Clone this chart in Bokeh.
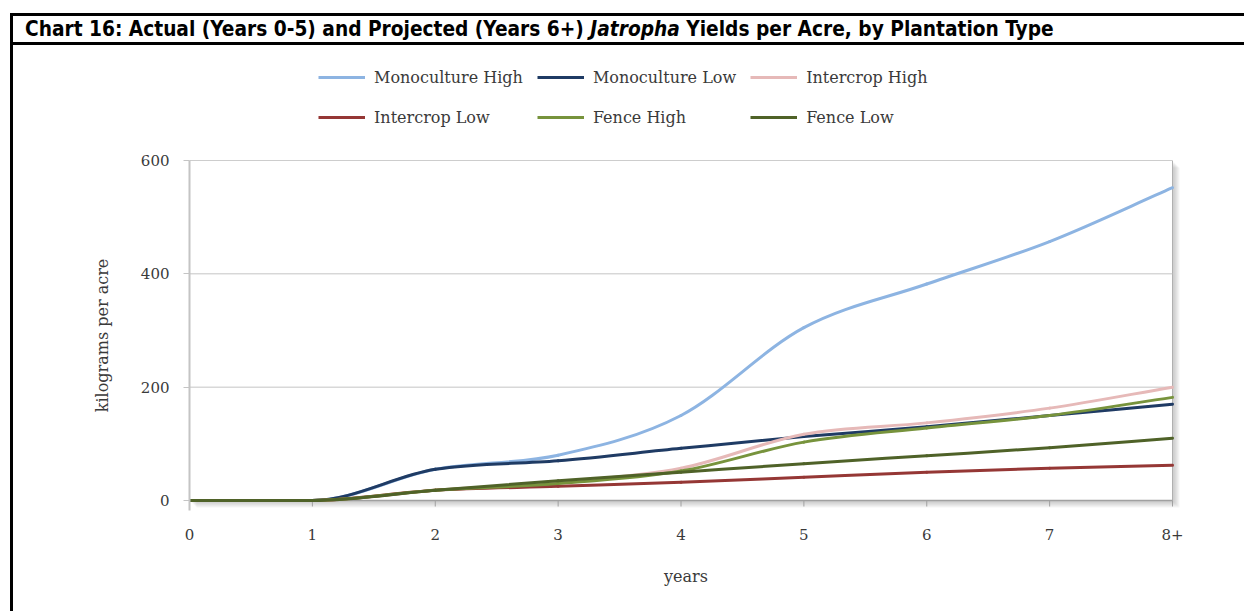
from bokeh.plotting import figure
from bokeh.models import Range1d, FixedTicker, Legend, LegendItem, Div, Spacer
from bokeh.layouts import column, row
from bokeh.embed import file_html
from bokeh.resources import INLINE

# Yields per acre (kg), actual for years 0-5 and projected for 6-8+
years = [0, 1, 2, 3, 4, 5, 6, 7, 8]
year_labels = ["0", "1", "2", "3", "4", "5", "6", "7", "8+"]
monoculture_high = [0, 0, 55, 80, 150, 305, 382, 457, 552]
monoculture_low = [0, 0, 55, 70, 92, 113, 130, 150, 170]
intercrop_high = [0, 0, 18, 32, 57, 117, 137, 163, 200]
intercrop_low = [0, 0, 18, 25, 32, 41, 50, 57, 62]
fence_high = [0, 0, 18, 30, 52, 103, 128, 150, 182]
fence_low = [0, 0, 18, 35, 50, 65, 79, 93, 110]
y_ticks = [0, 200, 400, 600]

series = [
    ("Monoculture High", monoculture_high, "#8DB4E2"),
    ("Monoculture Low", monoculture_low, "#1F3B64"),
    ("Intercrop High", intercrop_high, "#E6B9B8"),
    ("Intercrop Low", intercrop_low, "#953735"),
    ("Fence High", fence_high, "#77933C"),
    ("Fence Low", fence_low, "#4F6228"),
]

SERIF = "DejaVu Serif"
TEXT = "#3a3a3a"


def smooth_segments(xs, ys):
    """Cubic Bezier pieces through the points (monotone tangents)."""
    n = len(xs)
    d = [(ys[i + 1] - ys[i]) / (xs[i + 1] - xs[i]) for i in range(n - 1)]
    m = [0.0] * n
    m[0], m[-1] = d[0], d[-1]
    for i in range(1, n - 1):
        m[i] = 0.0 if d[i - 1] * d[i] <= 0 else (d[i - 1] + d[i]) / 2
    for k in range(n - 1):
        if d[k] == 0:
            m[k] = m[k + 1] = 0.0
            continue
        a, b = m[k] / d[k], m[k + 1] / d[k]
        s = a * a + b * b
        if s > 9:
            t = 3 / s ** 0.5
            m[k], m[k + 1] = t * a * d[k], t * b * d[k]
    seg = dict(x0=[], y0=[], x1=[], y1=[], cx0=[], cy0=[], cx1=[], cy1=[])
    for k in range(n - 1):
        h = xs[k + 1] - xs[k]
        seg["x0"].append(xs[k]); seg["y0"].append(ys[k])
        seg["x1"].append(xs[k + 1]); seg["y1"].append(ys[k + 1])
        seg["cx0"].append(xs[k] + h / 3); seg["cy0"].append(ys[k] + m[k] * h / 3)
        seg["cx1"].append(xs[k + 1] - h / 3); seg["cy1"].append(ys[k + 1] - m[k + 1] * h / 3)
    return seg


# frame geometry (screen px)
FRAME_W, FRAME_H = 993, 350
X_MAX, Y_MAX = years[-1], y_ticks[-1]
px_x = (FRAME_W - 10) / X_MAX          # px per year inside the plot area
px_y = (FRAME_H - 10) / Y_MAX          # px per kg
pad_x, pad_y = 10 / px_x, 10 / px_y    # room for the drop shadow

p = figure(
    width=1231, height=463,
    x_range=Range1d(0, X_MAX + pad_x), y_range=Range1d(-pad_y, Y_MAX),
    output_backend="svg", toolbar_location=None,
    min_border_left=176, min_border_right=62,
    min_border_top=12, min_border_bottom=101,
    margin=0,
)
p.outline_line_color = None
p.background_fill_color = "white"
p.border_fill_color = "white"
p.xgrid.visible = False
p.ygrid.visible = False

# soft drop shadow under the plot area
for i in range(6):
    sx, sy = (2 + i) / px_x, (2 + i) / px_y
    p.quad(left=[sx], right=[X_MAX + sx], bottom=[-sy], top=[Y_MAX - sy],
           fill_color="#7f7f7f", fill_alpha=0.07, line_color=None, level="image")
p.quad(left=[0], right=[X_MAX], bottom=[0], top=[Y_MAX],
       fill_color="white", line_color="#b0b0b0", line_width=1, level="image")

# horizontal gridlines
p.segment(x0=[0] * len(y_ticks), x1=[X_MAX] * len(y_ticks), y0=y_ticks, y1=y_ticks,
          line_color="#c4c4c4", line_width=1, level="underlay")
# bottom axis line and its ticks
p.segment(x0=[0], x1=[X_MAX], y0=[0], y1=[0], line_color="#a0a0a0", line_width=1.5, level="underlay")
p.segment(x0=years, x1=years, y0=[0] * len(years), y1=[-6 / px_y] * len(years),
          line_color="#a0a0a0", line_width=1, level="underlay")

for name, vals, color in series:
    p.bezier(line_color=color, line_width=3, line_cap="round",
             **smooth_segments(years, vals))

# axes
p.xaxis.ticker = FixedTicker(ticks=years)
p.xaxis.major_label_overrides = {y: lab for y, lab in zip(years, year_labels)}
p.xaxis.axis_line_color = None
p.xaxis.major_tick_line_color = None
p.xaxis.minor_tick_line_color = None
p.xaxis.major_label_standoff = 12
p.xaxis.axis_label = "years"
p.xaxis.axis_label_standoff = 24

p.yaxis.ticker = FixedTicker(ticks=y_ticks)
p.yaxis.axis_line_color = "#c4c4c4"
p.yaxis.axis_line_width = 2
p.yaxis.major_tick_line_color = "#c4c4c4"
p.yaxis.major_tick_out = 6
p.yaxis.major_tick_in = 0
p.yaxis.minor_tick_line_color = None
p.yaxis.major_label_standoff = 14
p.yaxis.axis_label = "kilograms per acre"
p.yaxis.axis_label_standoff = 26

for ax in (p.xaxis[0], p.yaxis[0]):
    ax.major_label_text_font = SERIF
    ax.major_label_text_font_size = "15px"
    ax.major_label_text_color = TEXT
    ax.axis_label_text_font = SERIF
    ax.axis_label_text_font_size = "16px"
    ax.axis_label_text_font_style = "normal"
    ax.axis_label_text_color = TEXT

# legend strip above the chart: two rows of three series keys
LEG_H = 100
leg = figure(
    width=1231, height=LEG_H, output_backend="svg", toolbar_location=None,
    x_range=Range1d(0, 1), y_range=Range1d(0, 1),
    x_axis_type=None, y_axis_type=None, min_border=0, margin=0,
)
leg.outline_line_color = None
leg.xgrid.visible = False
leg.ygrid.visible = False
items = []
for name, vals, color in series:
    # one empty path per series: it only supplies the key's line style
    key = leg.multi_line(xs=[[]], ys=[[]], line_color=color, line_width=3)
    items.append(LegendItem(label=name, renderers=[key]))
legend = Legend(
    items=items, ncols=3, location=(129, 18),
    orientation="horizontal",
    label_text_font=SERIF, label_text_font_size="16px", label_text_color=TEXT,
    glyph_width=47, glyph_height=26, label_height=26, label_standoff=9,
    spacing=14, padding=0, margin=0,
    border_line_color=None, background_fill_alpha=0,
)
leg.add_layout(legend, "center")

title_html = """
<div style="position:relative;width:1244px;height:48px;background:white;">
  <div style="position:absolute;left:10px;top:13px;width:1234px;height:3px;background:#000;"></div>
  <div style="position:absolute;left:10px;top:42px;width:1234px;height:3px;background:#000;"></div>
  <div style="position:absolute;left:10px;top:13px;width:3px;height:35px;background:#000;"></div>
  <div style="position:absolute;left:25px;top:16px;white-space:nowrap;color:#000;transform:scaleX(0.94);transform-origin:left center;
              font-family:'DejaVu Sans Condensed','DejaVu Sans',sans-serif;font-weight:bold;font-size:22px;line-height:26px;">
    Chart 16: Actual (Years 0-5) and Projected (Years 6+) <i>Jatropha</i> Yields per Acre, by Plantation Type
  </div>
</div>
"""
title_div = Div(text=title_html, width=1244, height=48, margin=0)
left_bar = Div(text="", width=3, height=563, margin=0, styles={"background-color": "#000"})

page = column(
    title_div,
    row(Spacer(width=10, height=563, margin=0), left_bar,
        column(leg, p, spacing=0, margin=0), spacing=0, margin=0),
    spacing=0, margin=0,
)

html = file_html(page, INLINE, title="Jatropha yields per acre")
html = html.replace("<body>", '<body style="margin:0;">', 1)
open("out.html", "w").write(html)
